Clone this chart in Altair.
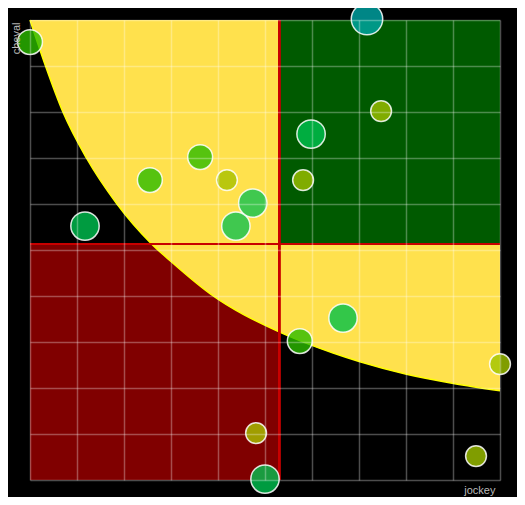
import altair as alt
import pandas as pd

# ---- data ----
jockey = [0.0, 7.17, 7.47, 5.98, 5.81, 3.62, 2.55, 4.19, 4.74, 4.38, 1.17, 6.66, 5.74, 10.0, 4.81, 5.0, 9.49]
cheval = [9.52, 10.02, 8.02, 7.52, 6.52, 7.02, 6.52, 6.52, 6.02, 5.52, 5.52, 3.52, 3.02, 2.52, 1.02, 0.02, 0.52]
weight = [2, 4, 1, 3, 1, 2, 2, 1, 3, 3, 3, 3, 2, 1, 1, 3, 1]
colour = ["#2cbb00", "#00a8a8", "#a0c000", "#00c250", "#a0c000", "#2cbb00", "#2cbb00",
          "#a8c000", "#10c250", "#10c250", "#00c250", "#00c048", "#2cbb00", "#a0c400",
          "#a8c400", "#00c250", "#a0c400"]

curve_x = [0.0, 0.33, 0.70, 1.20, 1.85, 2.57, 3.00, 3.83, 5.30, 6.45, 7.02, 8.01, 9.01, 10.0]
curve_y = [10.0, 9.0, 8.0, 7.0, 6.0, 5.15, 4.75, 4.05, 3.22, 2.76, 2.57, 2.30, 2.10, 1.94]

x_mid = 5.3
y_mid = 5.13
lo, hi = 0, 10
ticks = list(range(0, 11))

pts = pd.DataFrame({"jockey": jockey, "cheval": cheval, "w": weight, "col": colour})
curve = pd.DataFrame({"cx": curve_x, "cy": curve_y})
red_q = pd.DataFrame({"x0": [lo], "x1": [x_mid], "y0": [lo], "y1": [y_mid]})
green_q = pd.DataFrame({"x0": [x_mid], "x1": [hi], "y0": [y_mid], "y1": [hi]})

xs = alt.Scale(domain=[lo, hi], nice=False, zero=False)
ys = alt.Scale(domain=[lo, hi], nice=False, zero=False)
xaxis = alt.Axis(title="jockey", values=ticks, labels=False, ticks=False, domain=False,
                 grid=True, titleAnchor="end", titleX=465, titleAlign="right", zindex=1)
yaxis = alt.Axis(title="cheval", values=ticks, labels=False, ticks=False, domain=False,
                 grid=True, titleAnchor="end", titleY=2, zindex=1)


def X(f):
    return alt.X(f, type="quantitative", scale=xs, axis=xaxis)


def Y(f):
    return alt.Y(f, type="quantitative", scale=ys, axis=yaxis)


red = alt.Chart(red_q).mark_rect(color="#800000").encode(
    x=X("x0"), x2="x1", y=Y("y0"), y2="y1")

yellow = alt.Chart(curve).mark_area(color="#ffe14d", interpolate="monotone").encode(
    x=X("cx"), y=Y("cy"), y2=alt.datum(hi))

edge = alt.Chart(curve).mark_line(color="#ffff00", strokeWidth=1.5, interpolate="monotone").encode(
    x=X("cx"), y=Y("cy"))

green = alt.Chart(green_q).mark_rect(color="#005a00").encode(
    x=X("x0"), x2="x1", y=Y("y0"), y2="y1")

vline = alt.Chart(pts).mark_rule(color="#c80000", strokeWidth=2).encode(x=alt.datum(x_mid))
hline = alt.Chart(pts).mark_rule(color="#c80000", strokeWidth=2).encode(y=alt.datum(y_mid))

dots = alt.Chart(pts).mark_circle(fillOpacity=0.8, stroke="#ffffff", strokeWidth=1.5,
                                  strokeOpacity=0.85, opacity=1, clip=False).encode(
    x=X("jockey"), y=Y("cheval"),
    color=alt.Color("col:N", scale=None),
    size=alt.Size("w:Q", scale=alt.Scale(domain=[1, 4], range=[434, 990]), legend=None),
)

chart = alt.layer(red, yellow, edge, green, vline, hline, dots).properties(
    width=470, height=460,
    autosize=alt.AutoSizeParams(type="none"),
    padding={"left": 22, "top": 12, "right": 17, "bottom": 17},
    background="#000000",
).configure_view(stroke=None).configure_axis(
    gridColor="#ffffff", gridOpacity=0.3, gridWidth=1.5,
    titleColor="#bbbbbb", titleFont="Liberation Sans", titleFontSize=11,
    titleFontWeight="normal",
).configure_axisX(titlePadding=4).configure_axisY(titlePadding=9)

chart.save("out.html", embed_options={"renderer": "svg", "actions": False})
